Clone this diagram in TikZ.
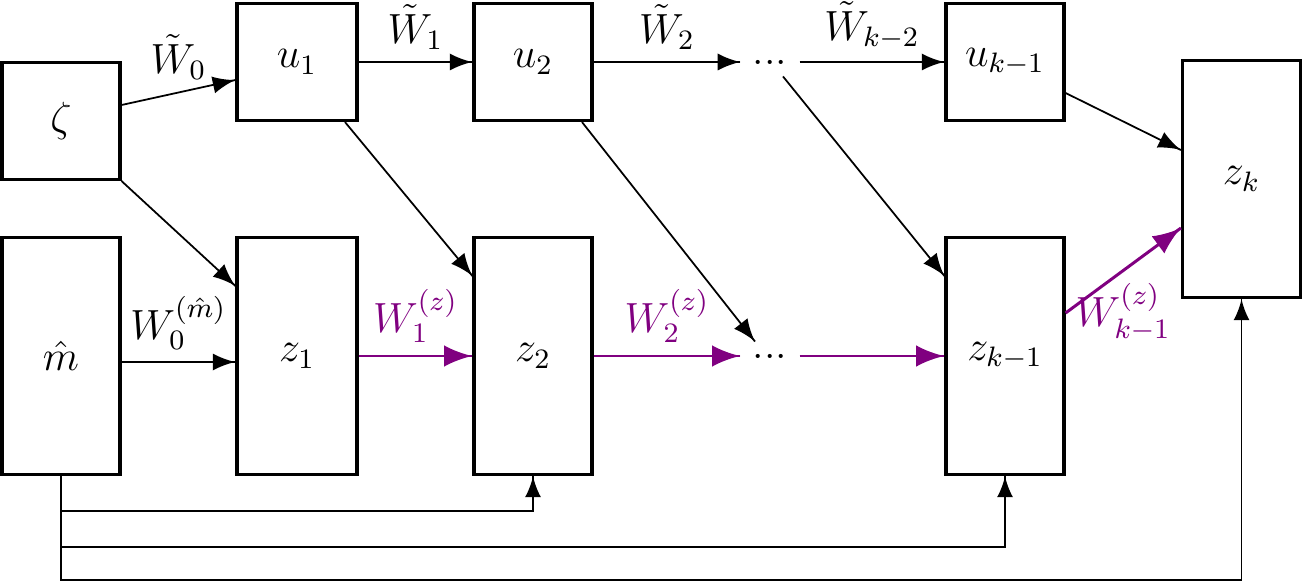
\documentclass[tikz,border=0pt]{standalone}
\usepackage{amsmath}
\usepackage{amssymb}
\usepackage{tikz}
\usetikzlibrary{arrows}
\usetikzlibrary{decorations.markings}
\usetikzlibrary{positioning}
\tikzset{->/.style = {decoration={markings,
                                  mark=at position 1 with {\arrow[scale=1.5]{latex}}},
                      postaction={decorate}}}
\tikzset{box/.style = {draw, line width=0.9pt, minimum width=1.18cm, minimum height=1.17cm}}
\tikzset{tall/.style = {box, minimum height=2.37cm}}
\definecolor{mpurple}{rgb}{0.5, 0, 0.5}

\begin{document}
\begin{tikzpicture}[font=\large]
      \useasboundingbox (0, 0) rectangle (13.03, 5.83);
      \node [box] (zeta) at (0.61, 4.62) {$\zeta$};
      \node [box, minimum width=1.2cm] (u1) at (2.97, 5.21) {$u_1$};
      \node [box] (u2) at (5.33, 5.21) {$u_2$};
      \node (dotsu) at (7.7, 5.21) {...};
      \node [box] (uk1) at (10.05, 5.21) {$u_{k-1}$};
      \node [tall] (zk) at (12.415, 4.04) {$z_k$};
      \node [tall] (mhat) at (0.61, 2.27) {$\hat{m}$};
      \node [tall, minimum width=1.2cm] (z1) at (2.97, 2.27) {$z_1$};
      \node [tall] (z2) at (5.33, 2.27) {$z_2$};
      \node (dotsz) at (7.7, 2.27) {...};
      \node [tall] (zk1) at (10.05, 2.27) {$z_{k-1}$};
      \draw [->, line width=0.5pt] ([yshift=1.6mm]zeta.east) -- node [above] {$\tilde{W}_0$} ([yshift=-1.8mm]u1.west);
      \draw [->, line width=0.5pt] (zeta.south east) -- ([yshift=7mm]z1.west);
      \draw [->, line width=0.5pt] (u1) -- node [above] {$\tilde{W}_1$} (u2);
      \draw [->, line width=0.5pt] (u2) -- node [above] {$\tilde{W}_2$} (dotsu);
      \draw [->, line width=0.5pt] (dotsu) -- node [above] {$\tilde{W}_{k-2}$} (uk1);
      \draw [->, line width=0.5pt] ([xshift=4.8mm]u1.south) -- ([yshift=8mm]z2.west);
      \draw [->, line width=0.5pt] ([xshift=4.9mm]u2.south) -- ([xshift=-1.5mm]dotsz.north);
      \draw [->, line width=0.5pt] ([xshift=1.3mm]dotsu.south) -- ([yshift=8mm]zk1.west);
      \draw [->, line width=0.5pt] ([yshift=-3.1mm]uk1.east) -- ([yshift=2.9mm]zk.west);
      \draw [->, line width=0.5pt] ([yshift=-0.6mm]mhat.east) -- node [above] {$W_0^{(\hat{m})}$} ([yshift=-0.6mm]z1.west);
      \draw [->, mpurple, line width=0.85pt] (z1) -- node [above] {$W_1^{(z)}$} (z2);
      \draw [->, mpurple, line width=0.85pt] (z2) -- node [above] {$W_2^{(z)}$} (dotsz);
      \draw [->, mpurple, line width=0.85pt] (dotsz) -- (zk1);
      \draw [->, mpurple, line width=0.85pt] ([yshift=4.3mm]zk1.east) -- node [below] {$W_{k-1}^{(z)}$} ([yshift=-4.9mm]zk.west);
      \draw [->, thin] (mhat.south) |- (5.33, 0.72) -- (z2.south);
      \draw [->, thin] (mhat.south) |- (10.05, 0.36) -- (zk1.south);
      \draw [->, thin] (mhat.south) |- (12.415, 0.03) -- (zk.south);
    \end{tikzpicture}
\end{document}
